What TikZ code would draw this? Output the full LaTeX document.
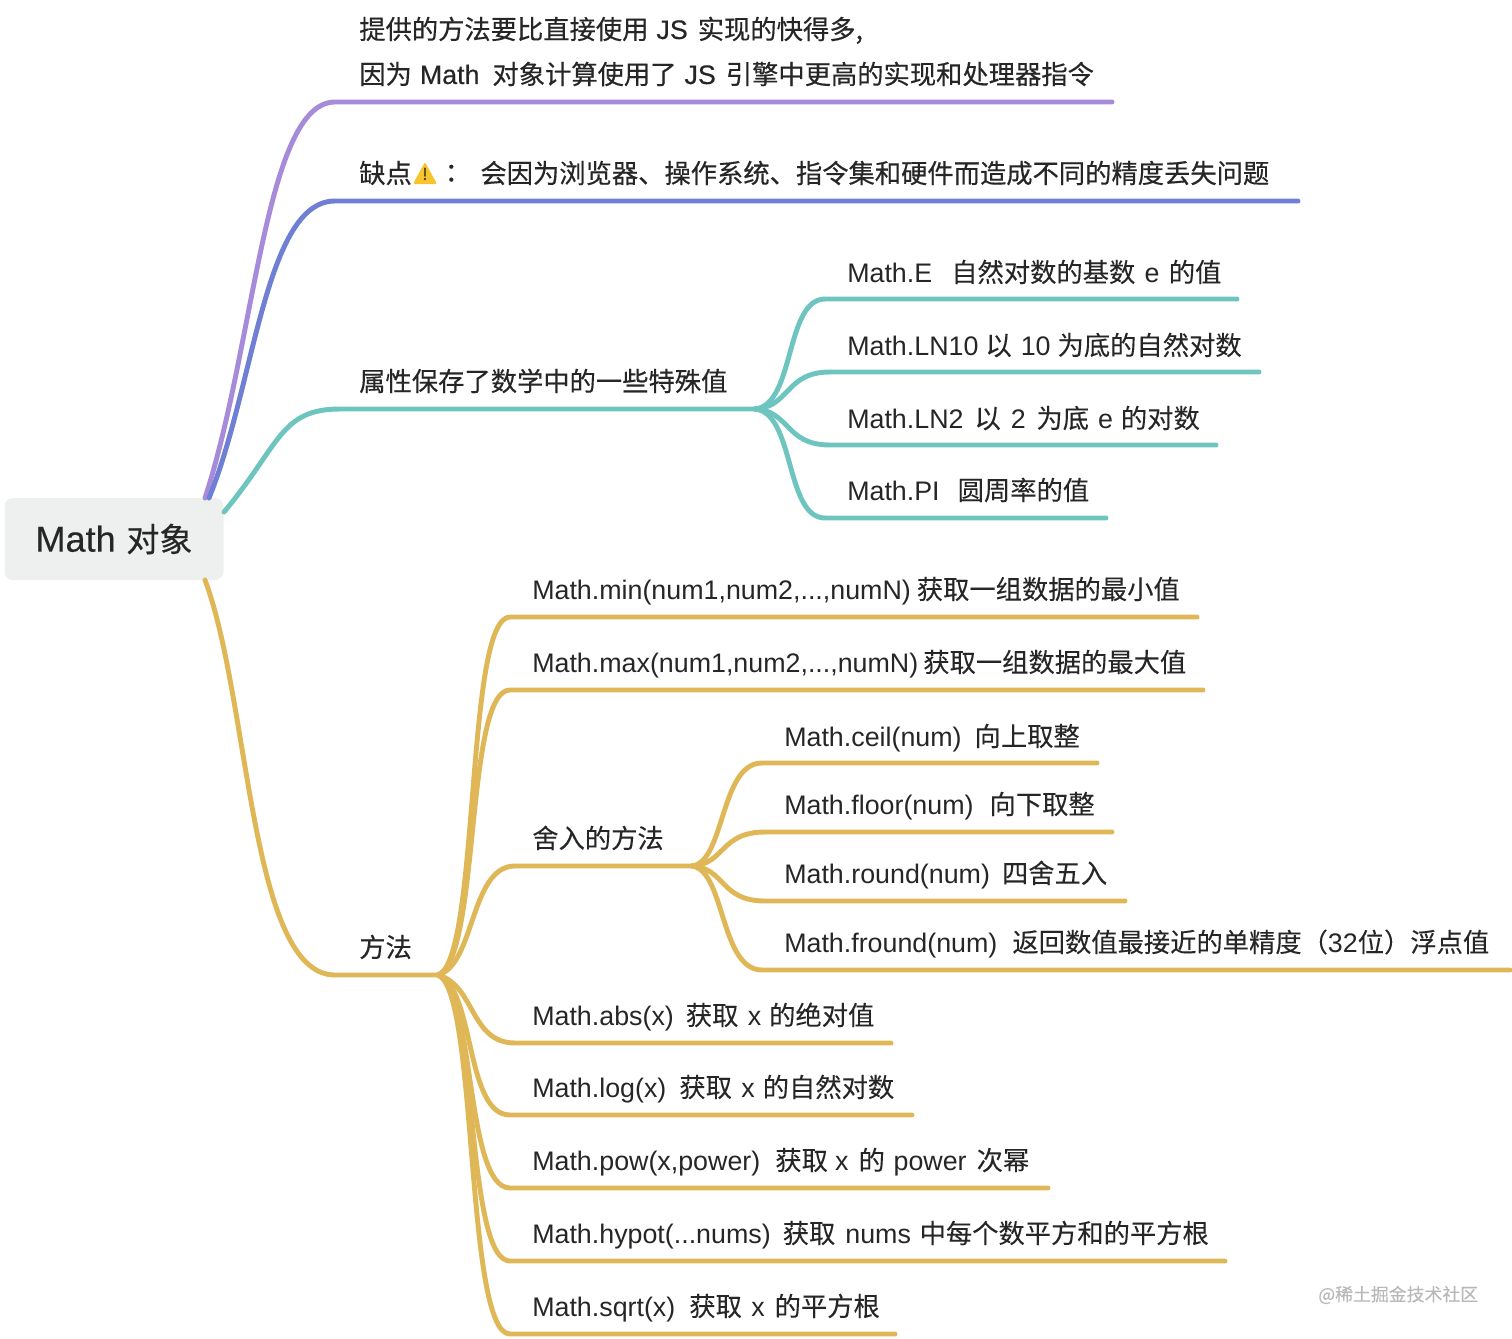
\documentclass[tikz,border=0pt]{standalone}
\usepackage{fontspec}
\setmainfont[FakeBold=0.08]{Noto Sans CJK SC}
\newfontfamily\medf[FakeBold=0.4]{Noto Sans CJK SC}
\newfontfamily\twf[FakeBold=0.4]{Noto Sans CJK TC}
\newfontfamily\latf[Scale=1.02]{Liberation Sans}
\newfontfamily\latmedf[Scale=1.02,FakeBold=0.3]{Liberation Sans}
\newcommand\lt[1]{{\latf #1}}
\newcommand\ltm[1]{{\latmedf #1}}
\newcommand\gp{\hspace{7.5pt}}
\newcommand\gq[1]{\hspace{#1pt}}
\definecolor{ink}{HTML}{262626}
\definecolor{cpurple}{HTML}{A78BDB}
\definecolor{cblue}{HTML}{6F7FD3}
\definecolor{cteal}{HTML}{6EC5BF}
\definecolor{cgold}{HTML}{DFB757}
\definecolor{rootfill}{HTML}{EEF0EF}
\definecolor{warn}{HTML}{F8C42C}
\tikzset{
  lab/.style={anchor=base west,inner sep=0pt,text=ink,font=\fontsize{19.72pt}{24pt}\selectfont},
  top/.style={lab,font=\fontsize{19.72pt}{24pt}\medf},
  bough/.style={line width=3.7pt,line cap=round,line join=round},
  rootbox/.style={fill=rootfill,rounded corners=6pt,minimum width=164.25pt,minimum height=61.5pt,inner sep=0pt,text=ink,font=\fontsize{24.8pt}{30pt}\medf},
}
\begin{document}
\begin{tikzpicture}[x=0.75pt,y=-0.75pt]
\useasboundingbox (0,0) rectangle (1512,1338);
% root
\node[rootbox] (root) at (114,539) {{\fontsize{26.5pt}{30pt}\latmedf Math}\hspace{8pt}对象};
\coordinate (rp) at (205,498);
\coordinate (rb) at (209,498);
\coordinate (rt) at (224,512);
\coordinate (rg) at (205,580);
% junctions
\coordinate (jt) at (755,409);
\coordinate (jg) at (438,975);
\coordinate (jr) at (692,866);
% level 1 connectors
\draw[bough,cpurple] (rp) .. controls (255,345) and (265,102) .. (335,102) -- (1112,102);
\draw[bough,cblue] (rb) .. controls (255,385) and (265,201) .. (335,201) -- (1298,201);
\draw[bough,cteal] (rt) .. controls (280,445) and (280,409) .. (340,409) -- (jt);
\draw[bough,cgold] (rg) .. controls (250,700) and (250,975) .. (335,975) -- (jg);
% teal
\draw[bough,cteal] (jt) .. controls (795,405) and (785,299) .. (825,299) -- (1237,299);
\draw[bough,cteal] (jt) .. controls (790,407) and (785,372) .. (830,372) -- (1259,372);
\draw[bough,cteal] (jt) .. controls (790,411) and (785,445) .. (830,445) -- (1216,445);
\draw[bough,cteal] (jt) .. controls (795,413) and (785,518) .. (825,518) -- (1106,518);
% gold upper
\draw[bough,cgold] (jg) .. controls (480,960) and (465,617) .. (510,617) -- (1197,617);
\draw[bough,cgold] (jg) .. controls (480,960) and (465,690) .. (510,690) -- (1203,690);
\draw[bough,cgold] (jg) .. controls (475,965) and (470,866) .. (515,866) -- (jr);
% gold rounding
\draw[bough,cgold] (jr) .. controls (725,862) and (720,763) .. (762,763) -- (1097,763);
\draw[bough,cgold] (jr) .. controls (725,864) and (720,832) .. (765,832) -- (1112,832);
\draw[bough,cgold] (jr) .. controls (725,868) and (720,901) .. (765,901) -- (1125,901);
\draw[bough,cgold] (jr) .. controls (725,870) and (720,970) .. (762,970) -- (1510,970);
% gold lower
\draw[bough,cgold] (jg) .. controls (475,985) and (470,1043) .. (515,1043) -- (891,1043);
\draw[bough,cgold] (jg) .. controls (475,988) and (465,1115) .. (510,1115) -- (912,1115);
\draw[bough,cgold] (jg) .. controls (475,990) and (465,1188) .. (510,1188) -- (1048,1188);
\draw[bough,cgold] (jg) .. controls (478,990) and (465,1261) .. (510,1261) -- (1225,1261);
\draw[bough,cgold] (jg) .. controls (478,990) and (465,1334) .. (510,1334) -- (895,1334);
% level 1 labels
\node[top] (a1) at (359,39) {提供的方法要比直接使用\gq{6}\ltm{JS}\gp 实现的快得多,};
\node[top] (a2) at (359,84) {因为\gq{6}\ltm{Math}\gq{9.75}对象计算使用了\gq{6}\ltm{JS}\gp 引擎中更高的实现和处理器指令};
\node[top] (b1) at (359,183) {缺点\hspace{19.72pt}{\twf ：}\hspace{12pt}会因为浏览器、操作系统、指令集和硬件而造成不同的精度丢失问题};
\fill[warn,rounded corners=1.5pt] (413,184) -- (425,162) -- (437,184) -- cycle;
\node[lab,anchor=center,font=\fontsize{12pt}{12pt}\medf] (bang) at (425,174) {!};
\node[top] (c0) at (359,391) {属性保存了数学中的一些特殊值};
\node[top] (g0) at (359,957) {方法};
% teal labels
\node[lab] (c1) at (847,282) {\lt{Math.E}\gq{14.25}自然对数的基数\gq{7}\lt{e}\gq{7}的值};
\node[lab] (c2) at (847,355) {\lt{Math.LN10}\gq{5.25}以\gq{6.75}\lt{10}\gq{5.25}为底的自然对数};
\node[lab] (c3) at (847,428) {\lt{Math.LN2}\gq{8.25}以\gp\lt{2}\gq{8}为底\gq{6.75}\lt{e}\gq{6}的对数};
\node[lab] (c4) at (847,500) {\lt{Math.PI}\gq{13.5}圆周率的值};
% gold labels
\node[lab] (g1) at (532,599) {\lt{Math.min(num1,num2,...,numN)}\gq{4.5}获取一组数据的最小值};
\node[lab] (g2) at (532,672) {\lt{Math.max(num1,num2,...,numN)}\gq{3.75}获取一组数据的最大值};
\node[lab] (g3) at (532,848) {舍入的方法};
\node[lab] (r1) at (784,746) {\lt{Math.ceil(num)}\gq{9.75}向上取整};
\node[lab] (r2) at (784,814) {\lt{Math.floor(num)}\gq{12}向下取整};
\node[lab] (r3) at (784,883) {\lt{Math.round(num)}\gq{9}四舍五入};
\node[lab] (r4) at (784,952) {\lt{Math.fround(num)}\gq{11.25}返回数值最接近的单精度（\lt{32}位）浮点值};
\node[lab] (g4) at (532,1025) {\lt{Math.abs(x)}\gq{9}获取\gq{7}\lt{x}\gq{6}的绝对值};
\node[lab] (g5) at (532,1097) {\lt{Math.log(x)}\gq{9.75}获取\gq{7}\lt{x}\gq{6}的自然对数};
\node[lab] (g6) at (532,1170) {\lt{Math.pow(x,power)}\gq{11.25}获取\gq{5.5}\lt{x}\gp 的\gq{6.5}\lt{power}\gp 次幂};
\node[lab] (g7) at (532,1243) {\lt{Math.hypot(...nums)}\gq{9}获取\gp\lt{nums}\gq{6.5}中每个数平方和的平方根};
\node[lab] (g8) at (532,1316) {\lt{Math.sqrt(x)}\gq{10.5}获取\gq{7}\lt{x}\gp 的平方根};
% watermark
\node[lab,text=black!28,font=\fontsize{13.4pt}{16pt}\selectfont] (wm) at (1318,1301) {@稀土掘金技术社区};
\end{tikzpicture}
\end{document}
